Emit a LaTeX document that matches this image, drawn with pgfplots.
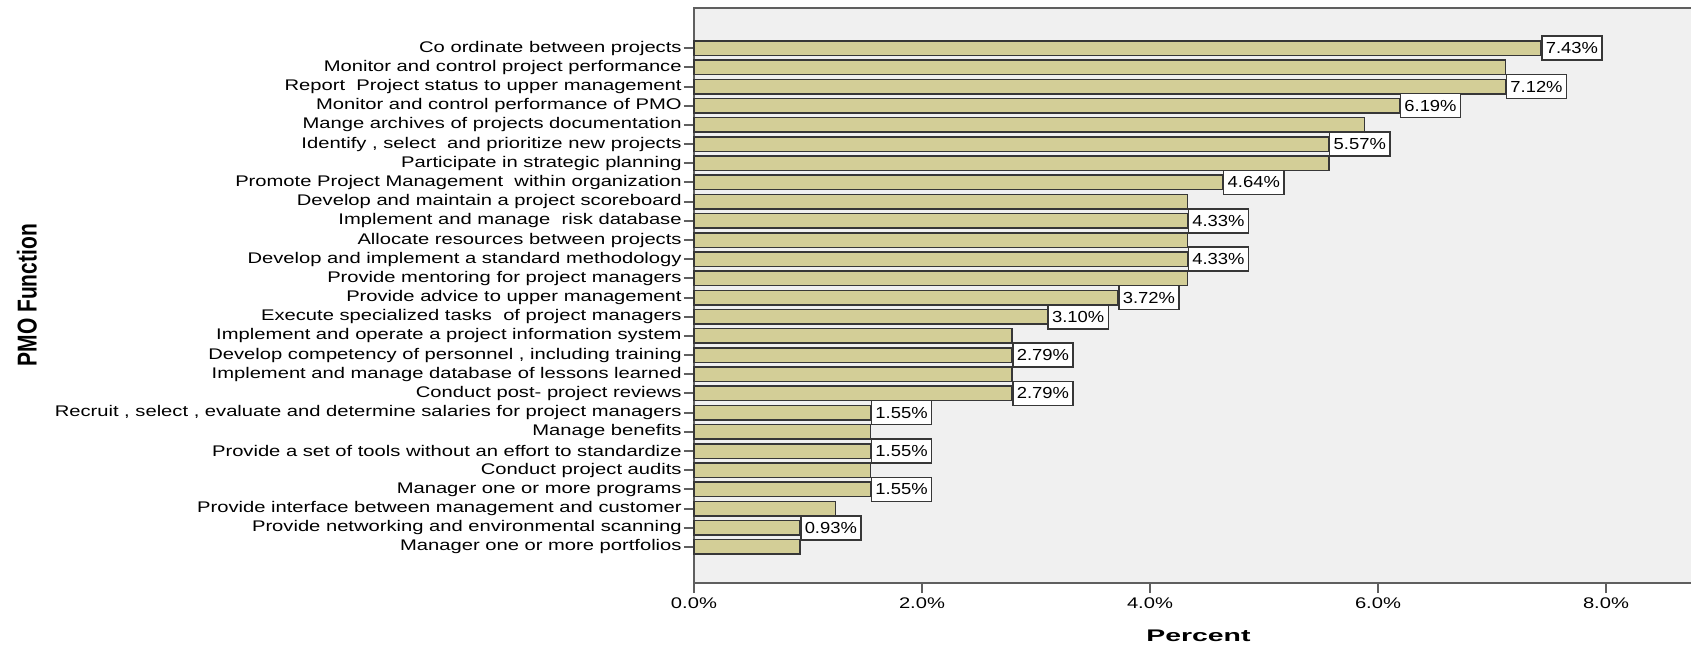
\documentclass[border=0pt]{standalone}
\usepackage{pgfplots}
\pgfplotsset{compat=1.18}
\usepackage{fontspec}
\setmainfont[FakeStretch=1.31]{Liberation Sans}
\newfontfamily\valfont[FakeStretch=1.15]{Liberation Sans}
\newfontfamily\boldsans{Liberation Sans Bold}

\definecolor{barfill}{RGB}{211,206,151}
\definecolor{barline}{RGB}{55,55,55}
\definecolor{plotbg}{RGB}{240,240,240}
\definecolor{axisline}{RGB}{95,95,95}

% Share of respondents per PMO function (index 0 = top row)
\pgfplotstableread{
pct idx
7.43 0
7.12 1
7.12 2
6.19 3
5.88 4
5.57 5
5.57 6
4.64 7
4.33 8
4.33 9
4.33 10
4.33 11
4.33 12
3.72 13
3.10 14
2.79 15
2.79 16
2.79 17
2.79 18
1.55 19
1.55 20
1.55 21
1.55 22
1.55 23
1.24 24
0.93 25
0.93 26
}\funcdata

% Rows that carry a value box
\pgfplotstableread{
pct idx
7.43 0
7.12 2
6.19 3
5.57 5
4.64 7
4.33 9
4.33 11
3.72 13
3.10 14
2.79 16
2.79 18
1.55 19
1.55 21
1.55 23
0.93 25
}\labeldata

\begin{document}
\begin{tikzpicture}
\path[use as bounding box] (-347pt,-31pt) rectangle (498.5pt,291.5pt);
\begin{axis}[
  at={(0pt,0pt)}, anchor=south west,
  scale only axis,
  width=504.45pt, height=287.75pt,
  xmin=0, xmax=8.85,
  ymin=-2.12, ymax=27.88,
  y dir=reverse,
  axis background/.style={fill=plotbg},
  axis line style={draw=axisline, line width=1pt},
  tick pos=left,
  tick align=outside,
  major tick length=5pt,
  tick style={draw=axisline, line width=1pt},
  xtick={0,2,4,6,8},
  /pgf/number format/assume math mode=true,
  xticklabel={\pgfmathprintnumber[fixed,zerofill,precision=1]{\tick}\%},
  xticklabel style={font=\fontsize{7.7pt}{9pt}\selectfont, yshift=1.2pt},
  ytick={0,...,26},
  yticklabels={
    Co ordinate between projects,
    Monitor and control project performance,
    Report\ \ Project status to upper management,
    Monitor and control performance of PMO,
    Mange archives of projects documentation,
    {Identify , select\ \ and prioritize new projects},
    Participate in strategic planning,
    Promote Project Management\ \ within organization,
    Develop and maintain a project scoreboard,
    Implement and manage\ \ risk database,
    Allocate resources between projects,
    Develop and implement a standard methodology,
    Provide mentoring for project managers,
    Provide advice to upper management,
    Execute specialized tasks\ \ of project managers,
    Implement and operate a project information system,
    {Develop competency of personnel , including training},
    Implement and manage database of lessons learned,
    Conduct post- project reviews,
    {Recruit , select , evaluate and determine salaries for project managers},
    Manage benefits,
    Provide a set of tools without an effort to standardize,
    Conduct project audits,
    Manager one or more programs,
    Provide interface between management and customer,
    Provide networking and environmental scanning,
    Manager one or more portfolios
  },
  yticklabel style={font=\fontsize{7.7pt}{9pt}\selectfont, inner xsep=1pt},
  xlabel={\scalebox{1.69}[1]{\boldsans\fontsize{8.4pt}{10pt}\selectfont Percent}},
  xlabel style={at={(axis description cs:0.5,0)}, anchor=center, yshift=-26.5pt},
  ylabel={\scalebox{1}[1.3]{\boldsans\fontsize{10.5pt}{12pt}\selectfont PMO Function}},
  ylabel style={at={(axis description cs:-0.6611,0.5)}, anchor=center},
  clip=false,
]
\addplot[xbar, bar width=7.25pt, bar shift=0pt,
  fill=barfill, draw=barline, line width=0.75pt]
  table[x=pct, y=idx] {\funcdata};
\addplot[draw=none, mark=none, point meta=x,
  nodes near coords={\pgfmathprintnumber[fixed,zerofill,precision=2]{\pgfplotspointmeta}\%},
  every node near coord/.style={anchor=west, fill=white, draw=barline,
    line width=0.75pt, inner xsep=2pt, inner ysep=0pt, minimum height=12pt,
    font=\valfont\fontsize{8pt}{9pt}\selectfont}]
  table[x=pct, y=idx] {\labeldata};
\end{axis}
\end{tikzpicture}
\end{document}
